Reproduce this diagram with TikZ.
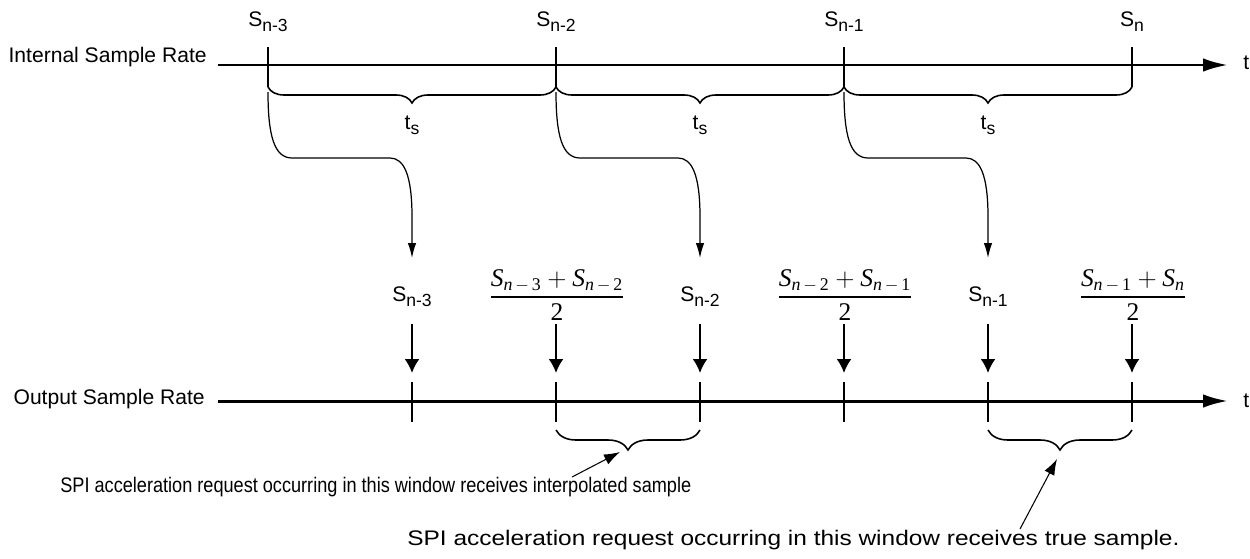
\documentclass[tikz,border=0pt]{standalone}
\usepackage{amsmath}
\usepackage{fontspec}
\setmainfont{Liberation Sans}
\newfontfamily\tms{Liberation Serif}
\usetikzlibrary{arrows.meta}
\usetikzlibrary{decorations.pathreplacing}
\usetikzlibrary{positioning}
\tikzset{axis/.style = {line width = 1.7pt, -{Latex[length = 0.5cm, width = 0.27cm]}}}
\tikzset{tick/.style = {line width = 1.1pt}}
\tikzset{span/.style = {line width = 0.9pt, decorate, decoration = {brace, mirror, amplitude = 0.32cm}}}
\tikzset{window/.style = {line width = 0.9pt, decorate, decoration = {brace, mirror, amplitude = 0.4cm}}}
\tikzset{feed/.style = {line width = 0.7pt, -{Latex[length = 0.3cm, width = 0.17cm]}}}
\tikzset{drop/.style = {line width = 1.1pt, -{Latex[length = 0.28cm, width = 0.3cm]}}}
\tikzset{note/.style = {line width = 0.6pt, -{Latex[length = 0.32cm, width = 0.22cm]}}}
\tikzset{frac/.style = {font = \fontsize{14.5}{16}\selectfont}}
\newcommand{\smp}[1]{S\raisebox{-0.45ex}{\fontsize{10}{10}\selectfont #1}}
\newcommand{\tsub}{t\raisebox{-0.45ex}{\fontsize{10}{10}\selectfont s}}
\newcommand{\itv}[1]{\text{\tms\itshape #1}}
\newcommand{\nm}[1]{\itv{n}\,-\,\text{\tms #1}}
\newcommand{\avg}[2]{$\dfrac{\itv{S}_{#1}+\itv{S}_{#2}}{\text{\tms 2}}$}

\begin{document}
\begin{tikzpicture}[x = 0.02cm, y = -0.02cm, font = \fontsize{12}{14}\selectfont]
  \useasboundingbox (0, 0) rectangle (1250, 558);

  \node [anchor = east, inner sep = 0] at (207, 57) (inlabel) {Internal Sample Rate};
  \node [anchor = east, inner sep = 0] at (205, 399) (outlabel) {Output Sample Rate};
  \coordinate (instart) at (218, 65);
  \coordinate (inend) at (1228, 65);
  \coordinate (outstart) at (218, 401);
  \coordinate (outend) at (1228, 401);
  \draw [axis] (instart) -- (inend);
  \draw [axis] (outstart) -- (outend);
  \node [anchor = west, inner sep = 0] at (1243, 63) (intime) {t};
  \node [anchor = west, inner sep = 0] at (1243, 401) (outtime) {t};

  \foreach \k/\x/\lab in {0/268/n-3, 1/556/n-2, 2/844/n-1, 3/1132/n} {
    \node at (\x, 22) (in\k) {\smp{\lab}};
    \coordinate (top\k) at (\x, 47);
    \coordinate (foot\k) at (\x, 87);
    \draw [tick] (top\k) -- (foot\k);
  }
  \foreach \k/\j/\m in {0/1/412, 1/2/700, 2/3/988} {
    \draw [span] (foot\k) -- (foot\j);
    \node at (\m, 125) (ts\k) {\tsub};
  }

  \foreach \k/\x in {0/268, 1/556, 2/844} {
    \coordinate (src\k) at (\x, 92);
    \coordinate (into\k) at (\x + 144, 258);
    \draw [feed] (src\k) .. controls (\x, 135) and (\x + 6, 158) .. (\x + 24, 158)
      -- (\x + 122, 158) .. controls (\x + 136, 158) and (\x + 144, 175) .. (\x + 144, 217)
      -- (into\k);
  }

  \node at (412, 297) (out0) {\smp{n-3}};
  \node [frac] at (557, 295) (out1) {\avg{\nm{3}}{\nm{2}}};
  \node at (700, 297) (out2) {\smp{n-2}};
  \node [frac] at (845, 295) (out3) {\avg{\nm{2}}{\nm{1}}};
  \node at (988, 297) (out4) {\smp{n-1}};
  \node [frac] at (1133, 295) (out5) {\avg{\nm{1}}{\itv{n}}};

  \foreach \k/\x in {0/412, 1/556, 2/700, 3/844, 4/988, 5/1132} {
    \coordinate (up\k) at (\x, 324);
    \coordinate (dn\k) at (\x, 373);
    \coordinate (hi\k) at (\x, 382);
    \coordinate (lo\k) at (\x, 422);
    \coordinate (edge\k) at (\x, 430);
    \draw [drop] (up\k) -- (dn\k);
    \draw [tick] (hi\k) -- (lo\k);
  }

  \draw [window] (edge1) -- (edge2);
  \draw [window] (edge4) -- (edge5);

  \node [anchor = west, inner sep = 0] at (60, 487) (interp) {\scalebox{0.86}[1]{SPI acceleration request occurring in this window receives interpolated sample}};
  \node [anchor = west, inner sep = 0] at (407, 540) (truesmp) {\scalebox{1.16}[1]{SPI acceleration request occurring in this window receives true sample.}};
  \coordinate (interptail) at (572, 477);
  \coordinate (interptip) at (620, 452);
  \coordinate (truetail) at (1020, 529);
  \coordinate (truetip) at (1057, 459);
  \draw [note] (interptail) -- (interptip);
  \draw [note] (truetail) -- (truetip);
\end{tikzpicture}
\end{document}
